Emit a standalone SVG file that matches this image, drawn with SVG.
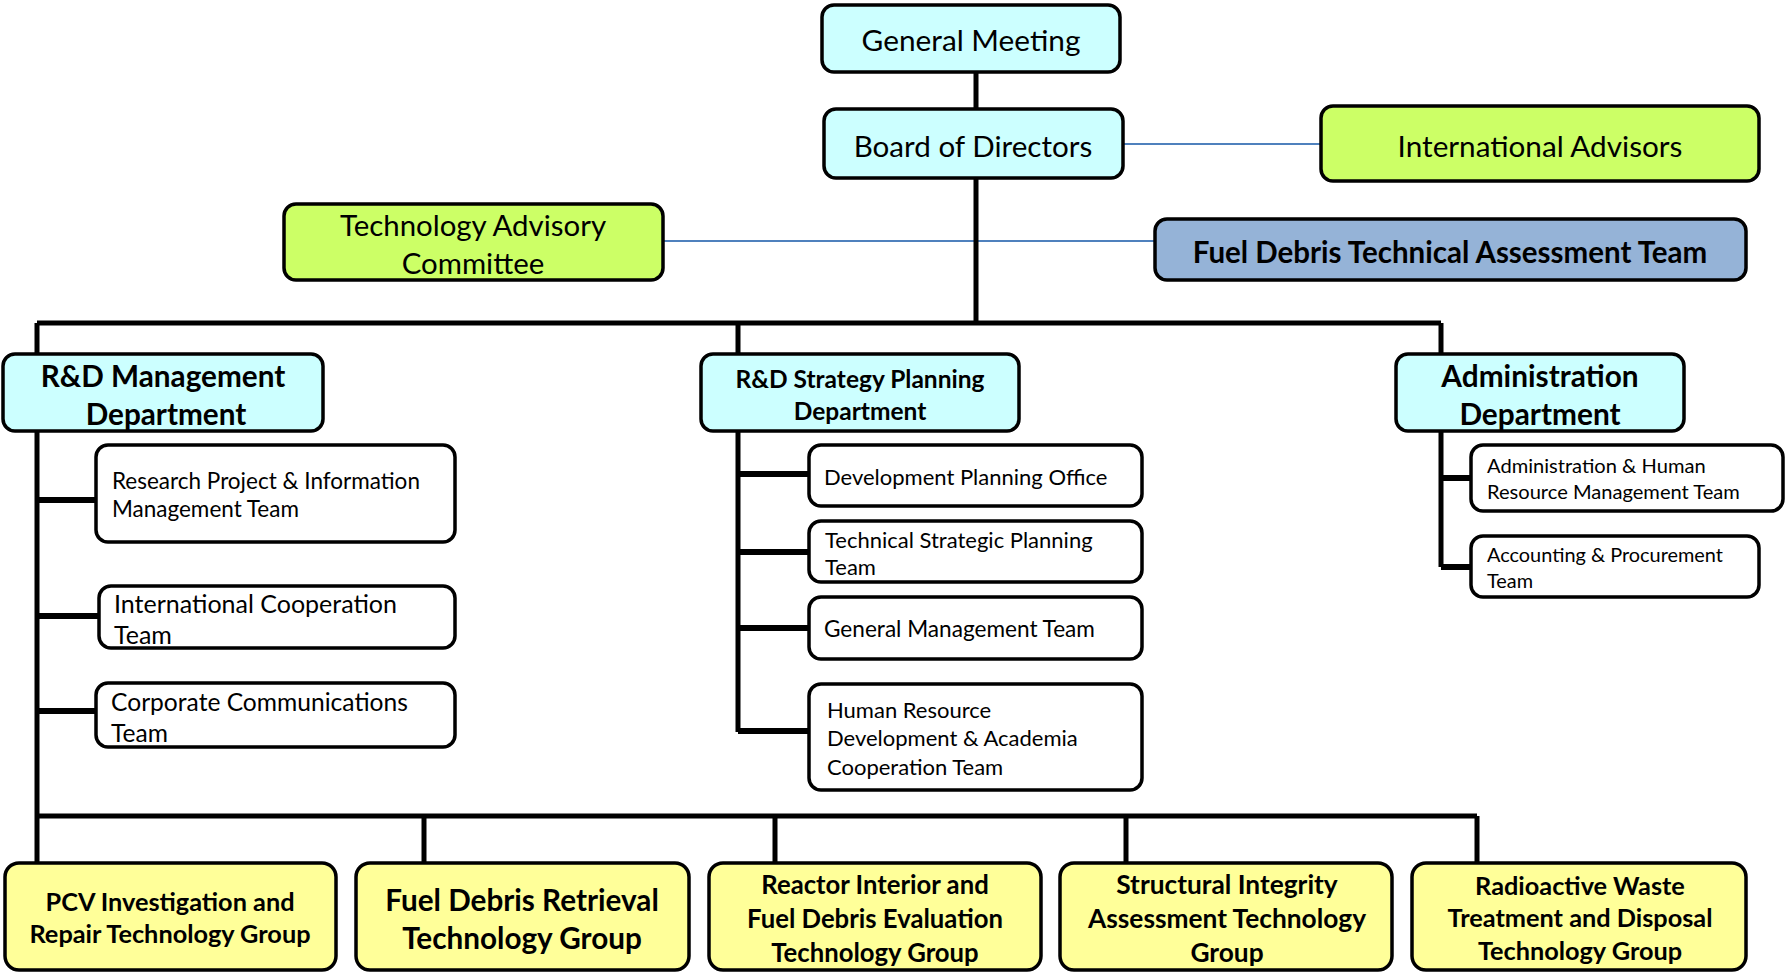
<svg xmlns="http://www.w3.org/2000/svg" width="1787" height="972" viewBox="0 0 1787 972">
<style>
.box{stroke:#000;stroke-width:3.5}
.cyan{fill:#CCFFFF}
.lime{fill:#CCFF66}
.blue{fill:#95B3D7}
.white{fill:#FFFFFF}
.yellow{fill:#FFFF99}
.ln{stroke:#000;stroke-width:5;fill:none}
.bl{stroke:#4F81BD;stroke-width:2;fill:none}
text{font-family:Lato,"Liberation Sans",sans-serif;fill:#000;dominant-baseline:central}
.c{text-anchor:middle}
.b{font-weight:bold}
</style>
<rect width="1787" height="972" fill="#FFFFFF"/>
<g id="connectors">
<path class="bl" d="M1123,144 H1321 M663,241 H1155"/>
<path class="ln" d="M976,72 V109 M976,178 V323 M37,323 H1441 M37,323 V862 M738,323 V353 M1441,323 V353 M738,431 V732 M1441,431 V567"/>
<path class="ln" style="stroke-width:6" d="M37,500 H96 M37,616 H99 M37,711 H96 M738,474 H809 M738,552 H809 M738,628 H809 M738,731 H809 M1441,478 H1471 M1441,567 H1471"/>
<path class="ln" d="M37,816 H1477 M424,816 V863 M775,816 V863 M1126,816 V863 M1477,816 V863"/>
</g>
<g id="general-meeting"><rect class="box cyan" x="822" y="5" width="298" height="67" rx="12"/><text class="c" x="971" y="39" font-size="29.8">General Meeting</text></g>
<g id="board"><rect class="box cyan" x="824" y="109" width="299" height="69" rx="12"/><text class="c" x="973" y="145" font-size="29.6">Board of Directors</text></g>
<g id="intl-advisors"><rect class="box lime" x="1321" y="106" width="438" height="75" rx="12"/><text class="c" x="1540" y="145" font-size="29.7">International Advisors</text></g>
<g id="tech-advisory"><rect class="box lime" x="284" y="204" width="379" height="76" rx="12"/><text class="c" x="473" y="224" font-size="29.4">Technology Advisory</text><text class="c" x="473" y="262" font-size="29.4">Committee</text></g>
<g id="fdtat"><rect class="box blue" x="1155" y="219" width="591" height="61" rx="12"/><text class="c b" x="1450" y="251" font-size="29.5">Fuel Debris Technical Assessment Team</text></g>
<g id="rd-mgmt"><rect class="box cyan" x="3" y="354" width="320" height="77" rx="12"/><text class="c b" x="163" y="375" font-size="29.7">R&amp;D Management</text><text class="c b" x="166" y="413" font-size="29.7">Department</text></g>
<g id="rd-strategy"><rect class="box cyan" x="701" y="354" width="318" height="77" rx="12"/><text class="c b" x="860" y="378" font-size="24.5">R&amp;D Strategy Planning</text><text class="c b" x="860" y="410" font-size="24.5">Department</text></g>
<g id="admin-dept"><rect class="box cyan" x="1396" y="354" width="288" height="77" rx="12"/><text class="c b" x="1540" y="375" font-size="29.8">Administration</text><text class="c b" x="1540" y="413" font-size="29.8">Department</text></g>
<g id="research-team"><rect class="box white" x="96" y="445" width="359" height="97" rx="12"/><text x="112" y="480" font-size="22.5">Research Project &amp; Information</text><text x="112" y="508" font-size="22.5">Management Team</text></g>
<g id="intl-coop"><rect class="box white" x="99" y="586" width="356" height="62" rx="12"/><text x="114" y="603" font-size="25">International Cooperation</text><text x="114" y="634" font-size="25">Team</text></g>
<g id="corp-comm"><rect class="box white" x="96" y="683" width="359" height="64" rx="12"/><text x="111" y="701" font-size="24.6">Corporate Communications</text><text x="111" y="732" font-size="24.6">Team</text></g>
<g id="dev-planning"><rect class="box white" x="809" y="445" width="333" height="61" rx="12"/><text x="824" y="476" font-size="22">Development Planning Office</text></g>
<g id="tech-strategic"><rect class="box white" x="809" y="521" width="333" height="61" rx="12"/><text x="825" y="539" font-size="22">Technical Strategic Planning</text><text x="825" y="566" font-size="22">Team</text></g>
<g id="gen-mgmt"><rect class="box white" x="809" y="597" width="333" height="62" rx="12"/><text x="824" y="628" font-size="22.6">General Management Team</text></g>
<g id="hr-dev"><rect class="box white" x="809" y="684" width="333" height="106" rx="12"/><text x="827" y="709" font-size="22">Human Resource</text><text x="827" y="737" font-size="22">Development &amp; Academia</text><text x="827" y="766" font-size="22">Cooperation Team</text></g>
<g id="admin-hr"><rect class="box white" x="1471" y="445" width="312" height="66" rx="12"/><text x="1487" y="465" font-size="20.1">Administration &amp; Human</text><text x="1487" y="491" font-size="20.1">Resource Management Team</text></g>
<g id="accounting"><rect class="box white" x="1471" y="536" width="288" height="61" rx="12"/><text x="1487" y="554" font-size="19.9">Accounting &amp; Procurement</text><text x="1487" y="580" font-size="19.9">Team</text></g>
<g id="pcv"><rect class="box yellow" x="5" y="863" width="331" height="107" rx="14"/><text class="c b" x="170" y="901" font-size="25.3">PCV Investigation and</text><text class="c b" x="170" y="933" font-size="25.3">Repair Technology Group</text></g>
<g id="fdr"><rect class="box yellow" x="356" y="863" width="333" height="107" rx="14"/><text class="c b" x="522" y="899" font-size="29.7">Fuel Debris Retrieval</text><text class="c b" x="522" y="937" font-size="29.7">Technology Group</text></g>
<g id="reactor"><rect class="box yellow" x="709" y="863" width="332" height="107" rx="14"/><text class="c b" x="875" y="884" font-size="25.7">Reactor Interior and</text><text class="c b" x="875" y="918" font-size="25.7">Fuel Debris Evaluation</text><text class="c b" x="875" y="952" font-size="25.7">Technology Group</text></g>
<g id="structural"><rect class="box yellow" x="1060" y="863" width="332" height="107" rx="14"/><text class="c b" x="1227" y="884" font-size="26.3">Structural Integrity</text><text class="c b" x="1227" y="918" font-size="26.3">Assessment Technology</text><text class="c b" x="1227" y="952" font-size="26.3">Group</text></g>
<g id="radwaste"><rect class="box yellow" x="1412" y="863" width="334" height="107" rx="14"/><text class="c b" x="1580" y="885" font-size="25.3">Radioactive Waste</text><text class="c b" x="1580" y="917" font-size="25.3">Treatment and Disposal</text><text class="c b" x="1580" y="950" font-size="25.3">Technology Group</text></g>
</svg>
